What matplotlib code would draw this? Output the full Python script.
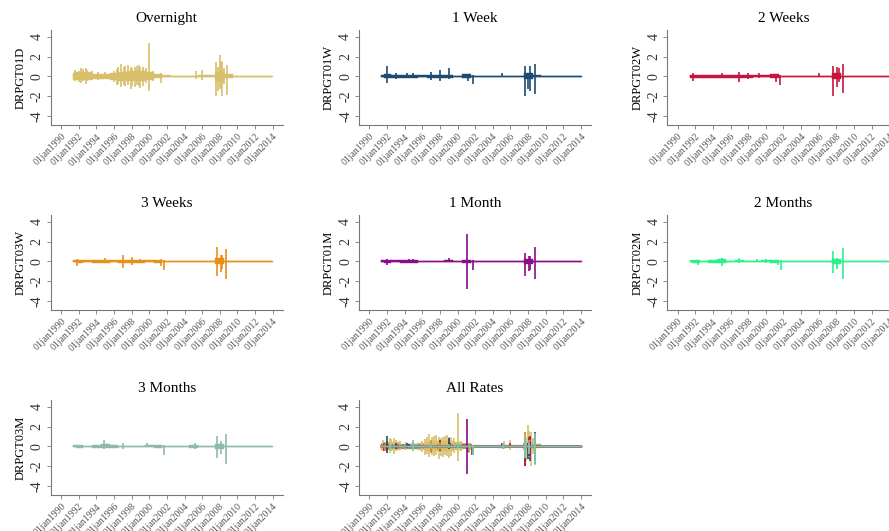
import matplotlib
matplotlib.use("Agg")
from matplotlib import pyplot as plt

plt.rcParams['font.family'] = ['Liberation Serif', 'DejaVu Serif']

# envelope readings (symmetric half-width) at these dates
env_t = [1991.35, 1992, 1993, 1994, 1995, 1996, 1997, 1998, 1999, 2000, 2001, 2002,
         2003, 2004, 2005, 2006, 2007, 2008, 2009, 2010, 2011, 2012, 2013, 2013.95]

env_on = [0.35, 0.4, 0.4, 0.25, 0.25, 0.35, 0.45, 0.5, 0.5, 0.4, 0.2, 0.1,
          0.07, 0.08, 0.08, 0.1, 0.1, 0.45, 0.2, 0.06, 0.05, 0.05, 0.05, 0.05]
env_1w = [0.1, 0.2, 0.15, 0.12, 0.15, 0.1, 0.12, 0.12, 0.12, 0.08, 0.2, 0.08,
          0.05, 0.05, 0.07, 0.07, 0.07, 0.3, 0.1, 0.04, 0.04, 0.04, 0.04, 0.04]
env_2w = [0.12, 0.18, 0.12, 0.12, 0.18, 0.12, 0.12, 0.12, 0.1, 0.1, 0.2, 0.07,
          0.04, 0.04, 0.05, 0.06, 0.06, 0.3, 0.08, 0.04, 0.04, 0.04, 0.04, 0.04]
env_3w = [0.1, 0.15, 0.1, 0.12, 0.15, 0.1, 0.12, 0.12, 0.12, 0.1, 0.15, 0.06,
          0.04, 0.04, 0.05, 0.06, 0.06, 0.3, 0.08, 0.04, 0.04, 0.04, 0.04, 0.04]
env_1m = [0.1, 0.15, 0.1, 0.12, 0.15, 0.08, 0.08, 0.08, 0.1, 0.08, 0.12, 0.06,
          0.04, 0.04, 0.05, 0.05, 0.05, 0.25, 0.08, 0.04, 0.04, 0.04, 0.04, 0.04]
env_2m = [0.1, 0.12, 0.08, 0.12, 0.2, 0.08, 0.1, 0.07, 0.08, 0.1, 0.12, 0.05,
          0.04, 0.04, 0.05, 0.05, 0.05, 0.22, 0.07, 0.04, 0.04, 0.04, 0.04, 0.04]
env_3m = [0.1, 0.12, 0.08, 0.12, 0.2, 0.12, 0.08, 0.08, 0.08, 0.1, 0.12, 0.05,
          0.04, 0.04, 0.18, 0.08, 0.07, 0.25, 0.08, 0.04, 0.04, 0.04, 0.04, 0.04]

# spikes: (date, high, low)
spk_on = [(1991.6, 0.6, -0.5), (1992.0, 0.5, -0.6), (1992.3, 0.8, -0.7), (1992.5, 0.7, -0.5),
          (1992.8, 0.85, -0.8), (1993.0, 0.6, -0.5), (1993.5, 0.5, -0.4), (1994.2, 0.4, -0.4),
          (1995.0, 0.4, -0.3), (1996.0, 0.5, -0.6), (1996.3, 0.7, -0.9), (1996.5, 1.0, -0.8),
          (1996.8, 1.3, -1.1), (1997.1, 0.9, -0.9), (1997.3, 1.1, -1.0), (1997.6, 1.2, -0.9),
          (1997.9, 0.9, -1.3), (1998.1, 0.8, -1.0), (1998.4, 1.0, -1.1), (1998.6, 1.1, -0.9),
          (1998.8, 1.2, -1.0), (1999.0, 0.9, -1.2), (1999.3, 1.0, -1.0), (1999.6, 0.8, -0.7),
          (2000.0, 3.4, -1.5), (2000.4, 0.5, -0.5), (2001.3, 0.3, -0.7), (2005.3, 0.5, -0.3),
          (2006.0, 0.6, -0.4), (2007.6, 1.5, -2.0), (2007.8, 1.0, -1.5), (2008.0, 2.2, -1.3),
          (2008.15, 1.6, -1.0), (2008.3, 1.5, -2.0), (2008.5, 0.8, -0.8), (2008.8, 1.2, -1.9)]
spk_1w = [(1992.0, 1.1, -0.7), (1993.0, 0.3, -0.3), (1994.3, 0.35, -0.2), (1995.0, 0.35, -0.2),
          (1997.0, 0.4, -0.4), (1998.0, 0.6, -0.5), (1999.0, 0.85, -0.3), (2001.2, 0.1, -0.5),
          (2001.75, 0.1, -0.8), (2005.0, 0.3, -0.1), (2007.65, 1.1, -2.0), (2007.95, 0.3, -1.3),
          (2008.2, 1.1, -1.5), (2008.75, 1.3, -1.8)]
spk_2w = [(1991.7, 0.3, -0.5), (1995.0, 0.35, -0.2), (1997.0, 0.4, -0.6), (1998.0, 0.3, -0.3),
          (1999.2, 0.3, -0.2), (2001.2, 0.1, -0.6), (2001.6, 0.1, -0.9), (2006.0, 0.3, -0.05),
          (2007.6, 1.1, -2.0), (2008.05, 0.9, -1.1), (2008.25, 0.8, -0.6), (2008.75, 1.3, -1.7)]
spk_3w = [(1991.8, 0.2, -0.5), (1995.0, 0.35, -0.1), (1997.0, 0.6, -0.7), (1998.0, 0.4, -0.4),
          (1999.0, 0.25, -0.2), (2001.3, 0.2, -0.5), (2001.7, 0.1, -0.9), (2007.65, 1.5, -1.5),
          (2008.1, 0.6, -1.1), (2008.25, 0.6, -0.8), (2008.75, 1.3, -1.8)]
spk_1m = [(1992.0, 0.2, -0.4), (1994.5, 0.25, -0.1), (1995.0, 0.25, -0.1), (1999.0, 0.3, -0.1),
          (2001.05, 2.8, -2.8), (2001.75, 0.1, -0.9), (2007.7, 0.8, -1.5), (2008.1, 0.5, -1.0),
          (2008.25, 0.5, -0.9), (2008.75, 1.5, -1.8)]
spk_2m = [(1992.3, 0.1, -0.4), (1995.0, 0.35, -0.5), (1997.0, 0.3, -0.2), (1999.0, 0.25, -0.1),
          (2000.0, 0.25, -0.2), (2001.4, 0.1, -0.4), (2001.7, 0.1, -0.9), (2007.65, 1.1, -1.2),
          (2008.1, 0.3, -0.8), (2008.75, 1.4, -1.8)]
spk_3m = [(1994.9, 0.6, -0.3), (1997.0, 0.3, -0.3), (1999.7, 0.3, -0.1), (2001.7, 0.1, -0.9),
          (2005.2, 0.35, -0.25), (2007.65, 1.1, -1.2), (2008.15, 0.5, -0.8), (2008.75, 1.3, -1.8)]

titles = ["Overnight", "1 Week", "2 Weeks", "3 Weeks", "1 Month", "2 Months", "3 Months"]
ylabels = ["DRPGT01D", "DRPGT01W", "DRPGT02W", "DRPGT03W", "DRPGT01M", "DRPGT02M", "DRPGT03M"]
colors = ["#D8BF6C", "#1C4A70", "#C8143C", "#E8901C", "#8A0C8A", "#2CF08C", "#8FB9AE"]
envs = [env_on, env_1w, env_2w, env_3w, env_1m, env_2m, env_3m]
spikes = [spk_on, spk_1w, spk_2w, spk_3w, spk_1m, spk_2m, spk_3m]

tick_years = list(range(1990, 2015, 2))
tick_labels = ["01jan%d" % y for y in tick_years]

fig = plt.figure(figsize=(8.89, 5.31), dpi=100)

lefts = [0.057, 0.4038, 0.7506]
bottoms = [0.7646, 0.4162, 0.0678]
w, h = 0.261, 0.179


def draw_series(ax, env, spk, col):
    lo = [-a for a in env]
    ax.fill_between(env_t, lo, env, color=col, lw=0.3, step="mid")
    ax.plot([env_t[0], env_t[-1]], [0, 0], color=col, lw=1.0)
    xs = [s[0] for s in spk]
    ax.vlines(xs, [s[2] for s in spk], [s[1] for s in spk], color=col, lw=1.2)


def style(ax, title, ylabel):
    ax.set_xlim(1988.83, 2015.13)
    ax.set_ylim(-4.92, 4.7)
    for s in ["top", "right"]:
        ax.spines[s].set_visible(False)
    for s in ["left", "bottom"]:
        ax.spines[s].set_color("#777777")
        ax.spines[s].set_linewidth(0.8)
    ax.set_yticks([-4, -2, 0, 2, 4])
    ax.set_yticklabels(["-4", "-2", "0", "2", "4"], rotation=90, va="center",
                       fontsize=10, color="#333333")
    ax.set_xticks(tick_years)
    ax.set_xticklabels(tick_labels, rotation=45, ha="right", rotation_mode="anchor",
                       fontsize=7, color="#555555")
    ax.tick_params(colors="#777777", length=3, width=0.6)
    ax.tick_params(axis="x", labelcolor="#555555", pad=2)
    ax.tick_params(axis="y", labelcolor="#333333", pad=2)
    ax.set_title(title, fontsize=11, pad=6)
    if ylabel:
        ax.set_ylabel(ylabel, fontsize=9, labelpad=3)
    ax.patch.set_alpha(0)


for i in range(7):
    r, c = divmod(i, 3)
    ax = fig.add_axes([lefts[c], bottoms[r], w, h])
    draw_series(ax, envs[i], spikes[i], colors[i])
    style(ax, titles[i], ylabels[i])

ax = fig.add_axes([lefts[1], bottoms[2], w, h])
for i in range(7):
    draw_series(ax, envs[i], spikes[i], colors[i])
style(ax, "All Rates", None)

fig.savefig("out.png", dpi=100)
